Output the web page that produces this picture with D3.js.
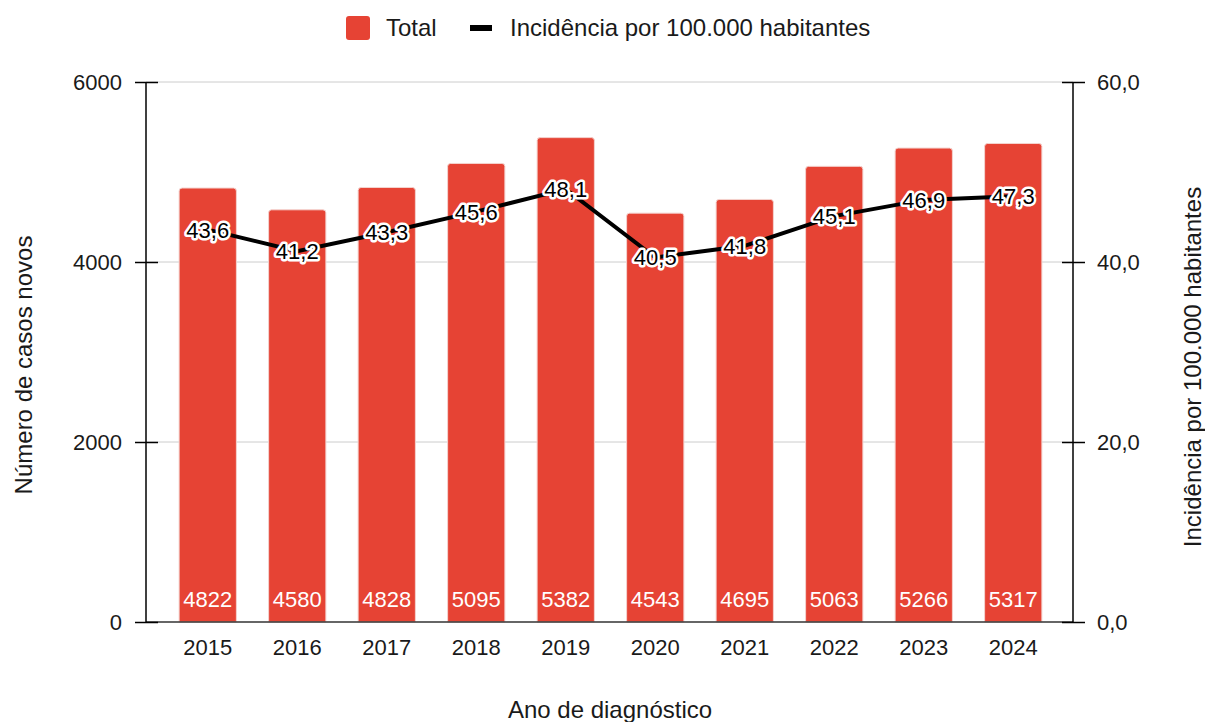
<!DOCTYPE html>
<html>
<head>
<meta charset="utf-8">
<script src="https://cdn.jsdelivr.net/npm/d3@7"></script>
<style>
  body { margin: 0; background: #fff; }
  svg { font-family: "Liberation Sans", Arial, sans-serif; }
</style>
</head>
<body>
<svg id="chart" width="1205" height="722"></svg>
<script>
const years = ['2015', '2016', '2017', '2018', '2019', '2020', '2021', '2022', '2023', '2024'];
const totals = [4822, 4580, 4828, 5095, 5382, 4543, 4695, 5063, 5266, 5317];
const incidence = [43.6, 41.2, 43.3, 45.6, 48.1, 40.5, 41.8, 45.1, 46.9, 47.3];
const leftTicks = [0, 2000, 4000, 6000];
const rightTicks = [0, 20, 40, 60];

const barColor = '#e64334';
const textColor = '#1a1a1a';
const svg = d3.select('#chart');

const plotLeft = 146, plotRight = 1073, plotTop = 82, plotBottom = 622;

const x = d3.scaleBand()
  .domain(years)
  .range([163, 1058])
  .paddingInner(0.36)
  .paddingOuter(0.18);

const yL = d3.scaleLinear().domain([0, 6000]).range([plotBottom, plotTop]);
const yR = d3.scaleLinear().domain([0, 60]).range([plotBottom, plotTop]);

const comma1 = d => d3.format('.1f')(d).replace('.', ',');

// gridlines
svg.append('g')
  .selectAll('line')
  .data(leftTicks.filter(d => d > 0))
  .join('line')
  .attr('x1', plotLeft).attr('x2', plotRight)
  .attr('y1', d => yL(d)).attr('y2', d => yL(d))
  .attr('stroke', '#cccccc').attr('stroke-width', 1);

// bars with rounded tops
const r = 3;
svg.append('g')
  .selectAll('path')
  .data(totals)
  .join('path')
  .attr('d', (d, i) => {
    const x0 = x(years[i]), w = x.bandwidth(), y0 = yL(d), y1 = yL(0);
    return `M${x0},${y1}V${y0 + r}Q${x0},${y0} ${x0 + r},${y0}H${x0 + w - r}Q${x0 + w},${y0} ${x0 + w},${y0 + r}V${y1}Z`;
  })
  .attr('fill', barColor)
  .attr('stroke', '#f4d3cf')
  .attr('stroke-width', 1);

// baseline
svg.append('line')
  .attr('x1', plotLeft).attr('x2', plotRight)
  .attr('y1', yL(0)).attr('y2', yL(0))
  .attr('stroke', '#333').attr('stroke-width', 1.5);

// bar value labels
svg.append('g')
  .selectAll('text')
  .data(totals)
  .join('text')
  .attr('x', (d, i) => x(years[i]) + x.bandwidth() / 2)
  .attr('y', yL(0) - 15)
  .attr('text-anchor', 'middle')
  .attr('font-size', 22)
  .attr('fill', '#fff')
  .text(d => d);

// left axis
const axL = svg.append('g').attr('transform', `translate(${plotLeft},0)`)
  .call(d3.axisLeft(yL).tickValues(leftTicks).tickSize(11).tickPadding(13).tickFormat(d3.format('d')));
axL.select('.domain').attr('stroke', '#000').attr('stroke-width', 1.5).attr('d', `M0,${plotTop}V${plotBottom}`);
axL.selectAll('.tick line').attr('x1', 12).attr('stroke', '#000').attr('stroke-width', 1.5);
axL.selectAll('.tick text').attr('font-size', 22).attr('fill', textColor).attr('font-family', null);

// right axis
const axR = svg.append('g').attr('transform', `translate(${plotRight},0)`)
  .call(d3.axisRight(yR).tickValues(rightTicks).tickSize(12).tickPadding(12).tickFormat(comma1));
axR.select('.domain').attr('stroke', '#000').attr('stroke-width', 1.5).attr('d', `M0,${plotTop}V${plotBottom}`);
axR.selectAll('.tick line').attr('x1', -11).attr('stroke', '#000').attr('stroke-width', 1.5);
axR.selectAll('.tick text').attr('font-size', 22).attr('fill', textColor).attr('font-family', null);

// x axis labels
const axX = svg.append('g').attr('transform', `translate(0,${plotBottom})`)
  .call(d3.axisBottom(x).tickSize(0).tickPadding(17));
axX.select('.domain').remove();
axX.selectAll('.tick text').attr('font-size', 22).attr('fill', textColor).attr('font-family', null);

// incidence line
const line = d3.line()
  .x((d, i) => x(years[i]) + x.bandwidth() / 2)
  .y(d => yR(d));
svg.append('path')
  .datum(incidence)
  .attr('d', line)
  .attr('fill', 'none')
  .attr('stroke', '#000')
  .attr('stroke-width', 4);

// incidence labels with white halo
svg.append('g')
  .selectAll('text')
  .data(incidence)
  .join('text')
  .attr('x', (d, i) => x(years[i]) + x.bandwidth() / 2)
  .attr('y', d => yR(d))
  .attr('dy', '0.36em')
  .attr('text-anchor', 'middle')
  .attr('font-size', 22)
  .attr('fill', '#000')
  .attr('stroke', '#fff')
  .attr('stroke-width', 5)
  .attr('stroke-linejoin', 'round')
  .attr('paint-order', 'stroke')
  .text(comma1);

// axis titles
svg.append('text')
  .attr('transform', `translate(32,365) rotate(-90)`)
  .attr('text-anchor', 'middle')
  .attr('font-size', 24).attr('fill', textColor)
  .text('Número de casos novos');
svg.append('text')
  .attr('transform', `translate(1201,367) rotate(-90)`)
  .attr('text-anchor', 'middle')
  .attr('font-size', 24).attr('fill', textColor)
  .text('Incidência por 100.000 habitantes');
svg.append('text')
  .attr('x', 610).attr('y', 718)
  .attr('text-anchor', 'middle')
  .attr('font-size', 24).attr('fill', textColor)
  .text('Ano de diagnóstico');

// legend
const legend = svg.append('g');
legend.append('rect')
  .attr('x', 346).attr('y', 16).attr('width', 24).attr('height', 24).attr('rx', 3)
  .attr('fill', barColor);
legend.append('text')
  .attr('x', 386).attr('y', 36).attr('font-size', 24).attr('fill', textColor)
  .text('Total');
legend.append('line')
  .attr('x1', 470).attr('x2', 492).attr('y1', 28).attr('y2', 28)
  .attr('stroke', '#000').attr('stroke-width', 6);
legend.append('text')
  .attr('x', 510).attr('y', 36).attr('font-size', 24).attr('fill', textColor)
  .text('Incidência por 100.000 habitantes');
</script>
</body>
</html>
